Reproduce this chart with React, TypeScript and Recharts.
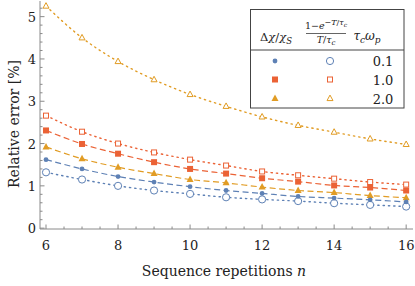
import React from "react";
import { ComposedChart, Line, XAxis, YAxis } from "recharts";

// sequence repetitions n
const repetitions = [6, 7, 8, 9, 10, 11, 12, 13, 14, 15, 16];

// relative error [%], filled markers: Δχ/χS, open markers: (1-e^-T/τc)/(T/τc)
const deltaChi01 = [1.62, 1.4, 1.22, 1.09, 0.98, 0.89, 0.82, 0.75, 0.71, 0.67, 0.62];
const decay01 = [1.32, 1.15, 1.0, 0.89, 0.81, 0.73, 0.68, 0.64, 0.59, 0.55, 0.51];
const deltaChi10 = [2.31, 1.99, 1.76, 1.56, 1.4, 1.29, 1.18, 1.1, 1.01, 0.96, 0.89];
const decay10 = [2.66, 2.28, 2.0, 1.79, 1.62, 1.48, 1.34, 1.25, 1.17, 1.09, 1.03];
const deltaChi20 = [1.92, 1.64, 1.44, 1.29, 1.15, 1.07, 0.97, 0.89, 0.84, 0.77, 0.72];
const decay20 = [5.25, 4.5, 3.94, 3.51, 3.16, 2.88, 2.63, 2.43, 2.27, 2.11, 1.98];

const xTicks = [6, 6.5, 7, 7.5, 8, 8.5, 9, 9.5, 10, 10.5, 11, 11.5, 12, 12.5, 13, 13.5, 14, 14.5, 15, 15.5, 16];
const yTicks = [
  0, 0.2, 0.4, 0.6, 0.8, 1, 1.2, 1.4, 1.6, 1.8, 2, 2.2, 2.4, 2.6, 2.8, 3, 3.2, 3.4, 3.6, 3.8, 4, 4.2, 4.4, 4.6,
  4.8, 5, 5.2,
];

const BLUE = "#5E81B5";
const RED = "#EB6235";
const GOLD = "#E19C24";
const FRAME = "#8a8a8a";
const FONT = "DejaVu Serif";

const data = repetitions.map((n, i) => ({
  n,
  a1: deltaChi01[i],
  b1: decay01[i],
  a2: deltaChi10[i],
  b2: decay10[i],
  a3: deltaChi20[i],
  b3: decay20[i],
}));

type Shape = "circle" | "square" | "triangle";

function marker(shape: Shape, filled: boolean, color: string, cx: number, cy: number) {
  const fill = filled ? color : "#fff";
  const sw = filled ? 0 : 1;
  if (shape === "circle") {
    return <circle cx={cx} cy={cy} r={filled ? 2.4 : 3.6} fill={fill} stroke={color} strokeWidth={sw} />;
  }
  if (shape === "square") {
    const s = filled ? 6 : 5;
    return <rect x={cx - s / 2} y={cy - s / 2} width={s} height={s} fill={fill} stroke={color} strokeWidth={sw} />;
  }
  const h = filled ? 6.5 : 5.5;
  const w = filled ? 7 : 6;
  return (
    <polygon
      points={`${cx},${cy - h * 0.62} ${cx - w / 2},${cy + h * 0.38} ${cx + w / 2},${cy + h * 0.38}`}
      fill={fill}
      stroke={color}
      strokeWidth={sw}
    />
  );
}

const dotFor = (shape: Shape, filled: boolean, color: string) => (p: any) =>
  <g key={`${shape}-${filled}-${p.index}`}>{marker(shape, filled, color, p.cx, p.cy)}</g>;

const isMult = (v: number, step: number) => Math.abs(v / step - Math.round(v / step)) < 1e-6;

const XTick = (side: "bottom" | "top") => (p: any) => {
  const v = p.payload.value;
  const major = isMult(v, 2);
  const len = major ? 4.5 : 2.5;
  const dir = side === "bottom" ? -1 : 1;
  return (
    <g>
      <line x1={p.x} x2={p.x} y1={p.y} y2={p.y + dir * len} stroke={FRAME} strokeWidth={1} />
      {side === "bottom" && major && (
        <text x={p.x} y={p.y + 21} textAnchor="middle" fontFamily={FONT} fontSize={13} fill="#222">
          {v}
        </text>
      )}
    </g>
  );
};

const YTick = (side: "left" | "right") => (p: any) => {
  const v = p.payload.value;
  const major = isMult(v, 1);
  const len = major ? 4.5 : 2.5;
  const dir = side === "left" ? 1 : -1;
  return (
    <g>
      <line x1={p.x} x2={p.x + dir * len} y1={p.y} y2={p.y} stroke={FRAME} strokeWidth={1} />
      {side === "left" && major && (
        <text x={p.x - 4} y={p.y + 5} textAnchor="end" fontFamily={FONT} fontSize={13} fill="#222">
          {v}
        </text>
      )}
    </g>
  );
};

function Overlay() {
  const rows: { v: string; shape: Shape; color: string; y: number }[] = [
    { v: "0.1", shape: "circle", color: BLUE, y: 61 },
    { v: "1.0", shape: "square", color: RED, y: 79.5 },
    { v: "2.0", shape: "triangle", color: GOLD, y: 98.5 },
  ];
  return (
    <svg width={415} height={286} style={{ position: "absolute", left: 0, top: 0, pointerEvents: "none" }}>
      <g fontFamily={FONT} fill="#222">
        <text x={0} y={0} transform="translate(19,124) rotate(-90)" textAnchor="middle" fontSize={14}>
          Relative error [%]
        </text>
        <text x={224} y={276} textAnchor="middle" fontSize={14}>
          Sequence repetitions <tspan fontStyle="italic">n</tspan>
        </text>
      </g>
      <rect x={250.5} y={9.5} width={153.5} height={98.5} fill="#fff" stroke="#444" strokeWidth={1} />
      <line x1={250.5} x2={404} y1={50} y2={50} stroke="#444" strokeWidth={1} />
      <g fontFamily={FONT} fill="#222">
        <text x={276} y={41} textAnchor="middle" fontSize={11.5}>
          Δ<tspan fontStyle="italic">χ</tspan>/<tspan fontStyle="italic">χ</tspan>
          <tspan fontStyle="italic" fontSize={8.5} dy={3}>
            S
          </tspan>
        </text>
        <text x={326} y={29} textAnchor="middle" fontSize={9.5}>
          1−<tspan fontStyle="italic">e</tspan>
          <tspan fontSize={8} dy={-4}>
            −<tspan fontStyle="italic">T</tspan>/<tspan fontStyle="italic">τ</tspan>
            <tspan fontSize={6} dy={2} fontStyle="italic">
              c
            </tspan>
          </tspan>
        </text>
        <line x1={306} x2={346} y1={33.5} y2={33.5} stroke="#222" strokeWidth={0.7} />
        <text x={326} y={43} textAnchor="middle" fontSize={9.5}>
          <tspan fontStyle="italic">T</tspan>/<tspan fontStyle="italic">τ</tspan>
          <tspan fontSize={7} dy={2} fontStyle="italic">
            c
          </tspan>
        </text>
        <text x={367} y={40} textAnchor="middle" fontSize={12} fontStyle="italic">
          τ<tspan fontSize={9} dy={3}>c</tspan>
          <tspan dy={-3}>ω</tspan>
          <tspan fontSize={9} dy={3}>p</tspan>
        </text>
        {rows.map((r) => (
          <g key={r.v}>
            {marker(r.shape, true, r.color, 275, r.y)}
            {marker(r.shape, false, r.color, 330, r.y)}
            <text x={383} y={r.y + 5} textAnchor="middle" fontSize={13}>
              {r.v}
            </text>
          </g>
        ))}
      </g>
    </svg>
  );
}

export default function App() {
  const dashed = "6 3.5";
  const dotted = "1.3 4";
  return (
    <div style={{ position: "absolute", left: 0, top: 0, width: 415, height: 286, background: "#fff" }}>
      <ComposedChart width={415} height={286} data={data} margin={{ top: 1, right: 2, bottom: 0, left: 0 }}>
        <XAxis
          xAxisId="top"
          orientation="top"
          dataKey="n"
          type="number"
          domain={[5.833, 16.19]}
          allowDataOverflow
          ticks={xTicks}
          interval={0}
          height={0}
          tickSize={0}
          tickMargin={0}
          tickLine={false}
          axisLine={{ stroke: FRAME }}
          tick={XTick("top")}
        />
        <XAxis
          xAxisId="bottom"
          orientation="bottom"
          dataKey="n"
          type="number"
          domain={[5.833, 16.19]}
          allowDataOverflow
          ticks={xTicks}
          interval={0}
          height={57}
          tickSize={0}
          tickMargin={0}
          tickLine={false}
          axisLine={{ stroke: FRAME }}
          tick={XTick("bottom")}
        />
        <YAxis
          yAxisId="left"
          orientation="left"
          type="number"
          domain={[-0.02, 5.37]}
          allowDataOverflow
          ticks={yTicks}
          interval={0}
          width={40}
          tickSize={0}
          tickMargin={0}
          tickLine={false}
          axisLine={{ stroke: FRAME }}
          tick={YTick("left")}
        />
        <YAxis
          yAxisId="right"
          orientation="right"
          type="number"
          domain={[-0.02, 5.37]}
          allowDataOverflow
          ticks={yTicks}
          interval={0}
          width={0}
          tickSize={0}
          tickMargin={0}
          tickLine={false}
          axisLine={{ stroke: FRAME }}
          tick={YTick("right")}
        />
        {[
          { key: "b3", color: GOLD, shape: "triangle" as Shape, filled: false, dash: dotted },
          { key: "b2", color: RED, shape: "square" as Shape, filled: false, dash: dotted },
          { key: "b1", color: BLUE, shape: "circle" as Shape, filled: false, dash: dotted },
          { key: "a2", color: RED, shape: "square" as Shape, filled: true, dash: dashed },
          { key: "a3", color: GOLD, shape: "triangle" as Shape, filled: true, dash: dashed },
          { key: "a1", color: BLUE, shape: "circle" as Shape, filled: true, dash: dashed },
        ].map((s) => (
          <Line
            key={s.key}
            xAxisId="bottom"
            yAxisId="left"
            dataKey={s.key}
            type="monotone"
            stroke={s.color}
            strokeWidth={s.filled ? 1.2 : 1.4}
            strokeDasharray={s.dash}
            strokeLinecap={s.filled ? "butt" : "round"}
            dot={dotFor(s.shape, s.filled, s.color)}
            activeDot={false}
            isAnimationActive={false}
          />
        ))}
      </ComposedChart>
      <Overlay />
    </div>
  );
}
